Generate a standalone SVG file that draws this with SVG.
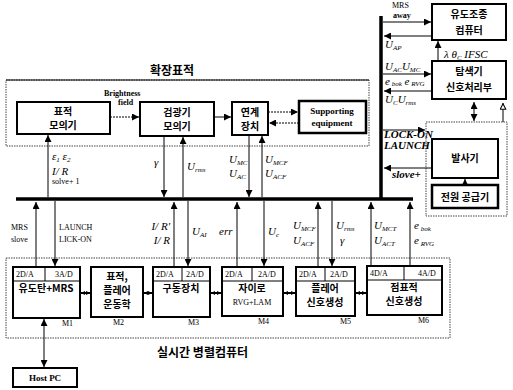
<svg xmlns="http://www.w3.org/2000/svg" width="513" height="390" viewBox="0 0 513 390">
<defs>
<style>
.box{fill:#fff;stroke:#000;stroke-width:2}
.tbox{fill:#fff;stroke:#000;stroke-width:2.5}
.dot{fill:none;stroke:#444;stroke-width:1;stroke-dasharray:1.5 1}
.bus{stroke:#000;stroke-width:3.5}
.ln{stroke:#000;stroke-width:1;fill:none}
.dl{stroke:#000;stroke-width:1;fill:none;stroke-dasharray:2 1}
.lk{stroke:#000;stroke-width:2;fill:none}
.kr{font-family:"Noto Sans CJK KR",sans-serif;font-size:10px;font-weight:bold;text-anchor:middle}
.ttl{font-family:"Noto Sans CJK KR",sans-serif;font-size:12px;font-weight:bold}
.en{font-family:"Liberation Serif",serif;font-size:9px;font-weight:bold;text-anchor:middle}
.hd{font-family:"Liberation Serif",serif;font-size:8px}
.sm{font-family:"Liberation Serif",serif;font-size:8px}
.it{font-family:"Liberation Serif",serif;font-size:11px;font-style:italic}
.s{font-size:7px}
</style>
<marker id="a" viewBox="0 0 10 10" refX="10" refY="5" markerWidth="7" markerHeight="7" markerUnits="userSpaceOnUse" orient="auto-start-reverse"><path d="M0,0 L10,5 L0,10 z"/></marker>
<marker id="h" viewBox="0 0 10 10" refX="10" refY="5" markerWidth="7" markerHeight="7" markerUnits="userSpaceOnUse" orient="auto"><path d="M1,1 L9,5 L1,9 z" fill="#fff" stroke="#000" stroke-width="1.5"/></marker>
<marker id="k" viewBox="0 0 10 10" refX="10" refY="5" markerWidth="4" markerHeight="4" markerUnits="userSpaceOnUse" orient="auto-start-reverse"><path d="M0,0 L10,5 L0,10 z"/></marker>
</defs>
<rect width="513" height="390" fill="#fff"/>

<!-- titles & frames -->
<text class="ttl" x="150" y="75">확장표적</text>
<rect class="dot" x="6" y="80" width="363" height="66"/>
<line x1="6" y1="80" x2="369" y2="80" stroke="#000" stroke-width="1"/>
<rect class="dot" x="6" y="258" width="444" height="80"/>
<text class="ttl" x="157" y="357">실시간 병렬컴퓨터</text>
<rect class="dot" x="426" y="122" width="81" height="94"/>

<!-- buses -->
<g id="bus">
<line class="bus" x1="16" y1="199" x2="413" y2="199"/>
<line class="bus" x1="381" y1="16" x2="381" y2="199"/>
</g>

<g id="target-sim"><rect class="box" x="17" y="102" width="93" height="32"/><text class="kr" x="63" y="115">표적</text><text class="kr" x="63" y="129">모의기</text></g>
<g id="detector-sim"><rect class="box" x="140" y="102" width="74" height="34"/><text class="kr" x="177" y="116">검광기</text><text class="kr" x="177" y="130">모의기</text></g>
<g id="interface"><rect class="box" x="232" y="102" width="36" height="33"/><text class="kr" x="250" y="116">연계</text><text class="kr" x="250" y="130">장치</text></g>
<g id="supporting"><rect class="tbox" x="299" y="101" width="67" height="32"/><text class="en" x="332" y="114">Supporting</text><text class="en" x="332" y="126">equipment</text></g>

<g id="guidance"><rect class="box" x="432" y="4" width="74" height="36"/><text class="kr" x="469" y="18">유도조종</text><text class="kr" x="469" y="34">컴퓨터</text></g>
<g id="seeker"><rect class="box" x="432" y="61" width="74" height="38"/><text class="kr" x="469" y="75">탐색기</text><text class="kr" x="469" y="91">신호처리부</text></g>
<g id="launcher"><rect class="box" x="432" y="139" width="66" height="39"/><text class="kr" x="465" y="162">발사기</text></g>
<g id="power"><rect class="tbox" x="432" y="185" width="66" height="23"/><text class="kr" x="465" y="201">전원 공급기</text></g>

<g id="M1"><rect class="box" x="13" y="267" width="67" height="51"/><line class="ln" x1="13" y1="281" x2="80" y2="281"/><line class="ln" x1="45" y1="267" x2="45" y2="281"/><text class="hd" x="16" y="277">2D/A</text><text class="hd" x="55" y="277">3A/D</text><text class="kr" x="46" y="292" font-size="9">유도탄+MRS</text><text class="sm" x="62" y="326">M1</text></g>
<g id="M2"><rect class="box" x="91" y="267" width="52" height="50"/><text class="kr" x="117" y="280" font-size="8.5">표적,</text><text class="kr" x="117" y="294" font-size="8.5">플레어</text><text class="kr" x="117" y="308" font-size="8.5">운동학</text><text class="sm" x="113" y="325">M2</text></g>
<g id="M3"><rect class="box" x="153" y="267" width="57" height="50"/><line class="ln" x1="153" y1="281" x2="210" y2="281"/><line class="ln" x1="182" y1="267" x2="182" y2="281"/><text class="hd" x="156" y="277">2D/A</text><text class="hd" x="186" y="277">2A/D</text><text class="kr" x="181" y="292" font-size="9">구동장치</text><text class="sm" x="188" y="325">M3</text></g>
<g id="M4"><rect class="box" x="222" y="267" width="61" height="49"/><line class="ln" x1="222" y1="281" x2="283" y2="281"/><line class="ln" x1="252" y1="267" x2="252" y2="281"/><text class="hd" x="225" y="277">2D/A</text><text class="hd" x="258" y="277">2A/D</text><text class="kr" x="252" y="292" font-size="9">자이로</text><text class="hd" x="252" y="305" text-anchor="middle" font-size="9">RVG+LAM</text><text class="sm" x="258" y="324">M4</text></g>
<g id="M5"><rect class="box" x="296" y="267" width="59" height="49"/><line class="ln" x1="296" y1="281" x2="355" y2="281"/><line class="ln" x1="325" y1="267" x2="325" y2="281"/><text class="hd" x="299" y="277">2D/A</text><text class="hd" x="330" y="277">2A/D</text><text class="kr" x="325" y="292" font-size="8.5">플레어</text><text class="kr" x="325" y="306" font-size="8.5">신호생성</text><text class="sm" x="340" y="324">M5</text></g>
<g id="M6"><rect class="box" x="367" y="266" width="75" height="49"/><line class="ln" x1="367" y1="280" x2="442" y2="280"/><line class="ln" x1="404" y1="266" x2="404" y2="280"/><text class="hd" x="370" y="276">4D/A</text><text class="hd" x="418" y="276">4A/D</text><text class="kr" x="404" y="291" font-size="8.5">점표적</text><text class="kr" x="404" y="305" font-size="8.5">신호생성</text><text class="sm" x="418" y="323">M6</text></g>
<g id="hostpc"><rect class="box" x="13" y="368" width="64" height="19"/><text class="en" x="45" y="381">Host PC</text></g>

<g id="connectors">
<line class="dl" x1="110" y1="117" x2="139" y2="117" marker-end="url(#a)"/>
<line class="ln" x1="214" y1="117" x2="231" y2="117" marker-end="url(#a)"/>
<line class="dl" x1="268" y1="112" x2="298" y2="112" marker-end="url(#a)"/>
<line class="dl" x1="299" y1="123" x2="269" y2="123" marker-end="url(#a)"/>
<line class="ln" x1="48" y1="197" x2="48" y2="135" marker-end="url(#a)"/>
<line class="ln" x1="164" y1="136" x2="164" y2="197" marker-end="url(#a)"/>
<line class="ln" x1="183" y1="197" x2="183" y2="137" marker-end="url(#a)"/>
<line class="ln" x1="249" y1="135" x2="249" y2="197" marker-end="url(#a)"/>
<line class="ln" x1="262" y1="197" x2="262" y2="136" marker-end="url(#a)"/>

<line class="ln" x1="383" y1="22" x2="431" y2="22" marker-end="url(#a)"/>
<line class="ln" x1="432" y1="36" x2="384" y2="36" marker-end="url(#a)"/>
<line class="ln" x1="438" y1="61" x2="438" y2="41" marker-end="url(#a)"/>
<line class="ln" x1="383" y1="74" x2="431" y2="74" marker-end="url(#a)"/>
<line class="ln" x1="432" y1="91" x2="384" y2="91" marker-end="url(#a)"/>
<line class="ln" x1="474" y1="102" x2="474" y2="121" marker-start="url(#a)" marker-end="url(#a)"/>
<line class="ln" x1="503" y1="122" x2="503" y2="103" marker-end="url(#h)"/>
<line class="ln" x1="383" y1="130" x2="425" y2="130" marker-end="url(#a)"/>
<line class="ln" x1="432" y1="168" x2="384" y2="168" marker-end="url(#a)"/>
<line class="ln" x1="465" y1="185" x2="465" y2="179" marker-end="url(#a)"/>

<line class="ln" x1="36" y1="267" x2="36" y2="202" marker-end="url(#a)"/>
<line class="ln" x1="55" y1="201" x2="55" y2="266" marker-end="url(#a)"/>
<line class="ln" x1="174" y1="267" x2="174" y2="202" marker-end="url(#a)"/>
<line class="ln" x1="188" y1="201" x2="188" y2="266" marker-end="url(#a)"/>
<line class="ln" x1="237" y1="267" x2="237" y2="202" marker-end="url(#a)"/>
<line class="ln" x1="264" y1="201" x2="264" y2="266" marker-end="url(#a)"/>
<line class="ln" x1="318" y1="267" x2="318" y2="202" marker-end="url(#a)"/>
<line class="ln" x1="332" y1="201" x2="332" y2="266" marker-end="url(#a)"/>
<line class="ln" x1="371" y1="266" x2="371" y2="202" marker-end="url(#a)"/>
<line class="ln" x1="410" y1="266" x2="410" y2="202" marker-end="url(#a)"/>
<line class="ln" x1="44" y1="319" x2="44" y2="367" marker-start="url(#a)" marker-end="url(#a)"/>

<line class="lk" x1="81" y1="293" x2="90" y2="293" marker-start="url(#k)" marker-end="url(#k)"/>
<line class="lk" x1="144" y1="293" x2="152" y2="293" marker-start="url(#k)" marker-end="url(#k)"/>
<line class="lk" x1="211" y1="293" x2="221" y2="293" marker-start="url(#k)" marker-end="url(#k)"/>
<line class="lk" x1="284" y1="293" x2="295" y2="293" marker-start="url(#k)" marker-end="url(#k)"/>
<line class="lk" x1="356" y1="293" x2="366" y2="293" marker-start="url(#k)" marker-end="url(#k)"/>
</g>

<g id="labels">
<text class="sm" x="104" y="96" font-weight="bold" font-size="6.5">Brightness</text>
<text class="sm" x="118" y="105" font-weight="bold" font-size="6.5">field</text>
<text class="it" x="52" y="160">ε<tspan class="s" dy="2">1</tspan><tspan dy="-2"> ε</tspan><tspan class="s" dy="2">2</tspan></text>
<text class="it" x="52" y="175">I/ R</text>
<text class="sm" x="52" y="184" font-size="7">solve+ 1</text>
<text class="it" x="154" y="166">γ</text>
<text class="it" x="187" y="170">U<tspan class="s" dy="2">rms</tspan></text>
<text class="it" x="229" y="163">U<tspan class="s" dy="2">MC</tspan></text>
<text class="it" x="229" y="177">U<tspan class="s" dy="2">AC</tspan></text>
<text class="it" x="265" y="163">U<tspan class="s" dy="2">MCF</tspan></text>
<text class="it" x="265" y="177">U<tspan class="s" dy="2">ACF</tspan></text>

<text class="sm" x="392" y="8" font-size="8">MRS</text>
<text class="sm" x="393" y="18" font-size="8" font-weight="bold">away</text>
<text class="it" x="385" y="48">U<tspan class="s" dy="2">AP</tspan></text>
<text class="it" x="444" y="58" font-size="9">λ θ<tspan class="s" dy="2">C</tspan><tspan dy="-2"> IFSC</tspan></text>
<text class="it" x="385" y="70" font-size="10">U<tspan class="s" dy="2">AC</tspan><tspan dy="-2">U</tspan><tspan class="s" dy="2">MC</tspan></text>
<text class="it" x="385" y="85" font-size="8">e<tspan class="s" dy="1"> bok</tspan><tspan dy="-1"> e</tspan><tspan class="s" dy="1"> RVG</tspan></text>
<text class="it" x="385" y="103" font-size="10">U<tspan class="s" dy="2">C</tspan><tspan dy="-2">U</tspan><tspan class="s" dy="2">rms</tspan></text>
<text class="it" x="384" y="138" font-size="7.5" font-weight="bold">LOCK-ON</text>
<text class="it" x="384" y="149" font-size="7.5" font-weight="bold">LAUNCH</text>
<text class="it" x="392" y="178" font-size="8" font-weight="bold">slove+</text>

<text class="sm" x="11" y="230">MRS</text>
<text class="sm" x="11" y="242">slove</text>
<text class="sm" x="59" y="230">LAUNCH</text>
<text class="sm" x="59" y="242">LICK-ON</text>
<text class="it" x="170" y="230" text-anchor="end">I/ R'</text>
<text class="it" x="170" y="244" text-anchor="end">I/ R</text>
<text class="it" x="192" y="235">U<tspan class="s" dy="2">AI</tspan></text>
<text class="it" x="219" y="235">err</text>
<text class="it" x="268" y="235">U<tspan class="s" dy="2">c</tspan></text>
<text class="it" x="293" y="229">U<tspan class="s" dy="2">MCF</tspan></text>
<text class="it" x="293" y="244">U<tspan class="s" dy="2">ACF</tspan></text>
<text class="it" x="336" y="229">U<tspan class="s" dy="2">rms</tspan></text>
<text class="it" x="340" y="244">γ</text>
<text class="it" x="374" y="229">U<tspan class="s" dy="2">MCT</tspan></text>
<text class="it" x="374" y="244">U<tspan class="s" dy="2">ACT</tspan></text>
<text class="it" x="414" y="229" font-size="9">e<tspan class="s" dy="2"> bok</tspan></text>
<text class="it" x="414" y="244" font-size="9">e<tspan class="s" dy="2"> RVG</tspan></text>
</g>
</svg>
